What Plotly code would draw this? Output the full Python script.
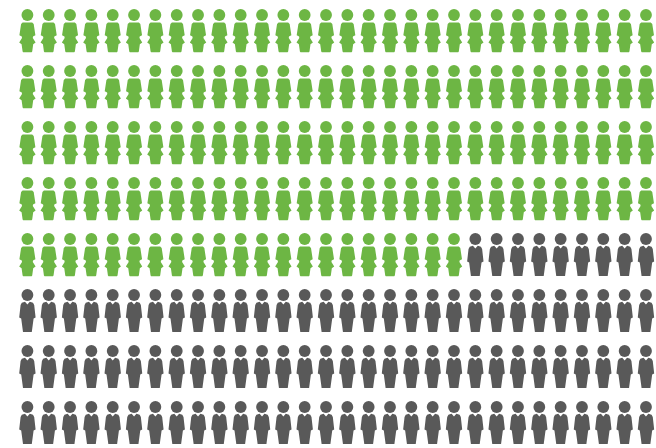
import plotly.graph_objects as go

# Data: number of people per group in the pictogram
groups = ["Women", "Men"]
counts = [141, 99]
colors = ["#6db644", "#595959"]
columns = 30

# Layout of the unit grid (in axis units = pixels)
x0, dx = 27.4, 21.33
y0, dy = 15.0, 56.0
head_size = 11.8

# Silhouettes relative to head centre
female = [(-4.8,7.6),(4.8,7.6),(6.3,9),(6.9,13),(8,20.3),(5.6,21.4),(5.4,23),(8.2,27.6),(5.8,29.2),(4.8,36.5),(4.2,37.2),
          (-4.2,37.2),(-4.8,36.5),(-5.8,29.2),(-8.2,27.6),(-5.4,23),(-5.6,21.4),(-8,20.3),(-6.9,13),(-6.3,9)]
male = [(-2.4,6.8),(0,9.4),(2.4,6.8),(5.6,7.8),(6.8,10),(8.2,22.5),(6.2,23.4),(5.6,27),(4.4,37),
        (-4.4,37),(-5.6,27),(-6.2,23.4),(-8.2,22.5),(-6.8,10),(-5.6,7.8)]
shapes_by_group = [female, male]

fig = go.Figure()
index = 0
for name, count, color, outline in zip(groups, counts, colors, shapes_by_group):
    hx, hy, bx, by = [], [], [], []
    for _ in range(count):
        row, col = divmod(index, columns)
        cx, cy = x0 + col * dx, y0 + row * dy
        hx.append(cx)
        hy.append(cy)
        for ox, oy in outline + outline[:1]:
            bx.append(cx + ox)
            by.append(cy + oy)
        bx.append(None)
        by.append(None)
        index += 1
    fig.add_trace(go.Scatter(x=bx, y=by, mode="lines", fill="toself", fillcolor=color,
                             line=dict(width=0, color=color), hoverinfo="skip", name=name))
    fig.add_trace(go.Scatter(x=hx, y=hy, mode="markers", name=name,
                             marker=dict(symbol="circle", size=head_size, color=color, line=dict(width=0))))

fig.update_layout(
    width=656, height=448, margin=dict(l=0, r=0, t=0, b=0),
    showlegend=False, paper_bgcolor="white", plot_bgcolor="white",
    xaxis=dict(range=[0, 656], visible=False, fixedrange=True),
    yaxis=dict(range=[448, 0], visible=False, fixedrange=True),
)
fig.write_html("out.html", config=dict(displayModeBar=False),
               post_script="document.body.style.margin='0';document.body.style.overflow='hidden';")
